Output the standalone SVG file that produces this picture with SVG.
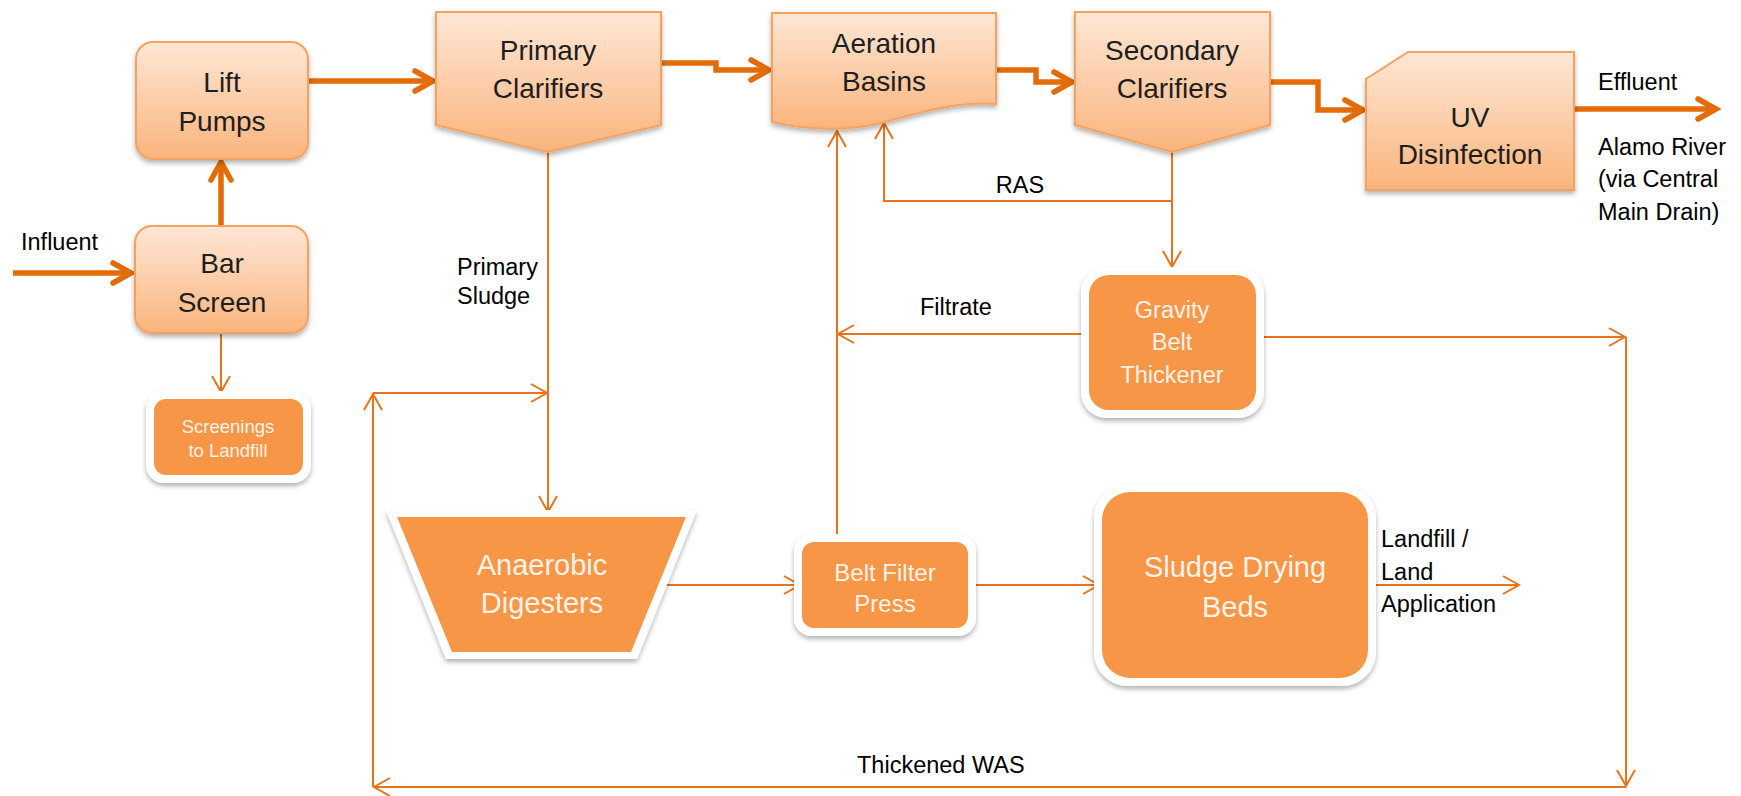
<svg xmlns="http://www.w3.org/2000/svg" width="1741" height="796" viewBox="0 0 1741 796">
<defs>
<linearGradient id="lg" x1="0" y1="0" x2="0" y2="1">
<stop offset="0" stop-color="#fee7d6"/>
<stop offset="1" stop-color="#fab47c"/>
</linearGradient>
<filter id="sh" x="-10%" y="-10%" width="120%" height="130%">
<feDropShadow dx="0" dy="3" stdDeviation="2.5" flood-color="#000" flood-opacity="0.3"/>
</filter>
<marker id="ahT" markerUnits="userSpaceOnUse" markerWidth="30" markerHeight="30" viewBox="-24 -14 30 28" refX="0" refY="0" orient="auto" overflow="visible">
<path d="M-18,-10 L0,0 L-18,10" fill="none" stroke="#e36c09" stroke-width="5.5" stroke-linecap="round" stroke-linejoin="miter"/>
</marker>
<marker id="ah" markerUnits="userSpaceOnUse" markerWidth="24" markerHeight="24" viewBox="-20 -12 24 24" refX="0" refY="0" orient="auto" overflow="visible">
<path d="M-16,-9 L0,0 L-16,9" fill="none" stroke="#e8731c" stroke-width="2"/>
</marker>
<style>
.lt{fill:url(#lg);stroke:#f6a25e;stroke-width:2;filter:url(#sh)}
.halo{fill:#fff;filter:url(#sh)}
.dk{fill:#f79646}
.tn{font-family:"Liberation Sans",Arial,sans-serif;font-size:28px;fill:#1e1e1e;text-anchor:middle}
.tw{font-family:"Liberation Sans",Arial,sans-serif;fill:#fff3ea;text-anchor:middle}
.lb{font-family:"Liberation Sans",Arial,sans-serif;font-size:23.5px;fill:#000}
.thick{fill:none;stroke:#e36c09;stroke-width:5.5;marker-end:url(#ahT)}
.thin{fill:none;stroke:#e8731c;stroke-width:2;marker-end:url(#ah)}
</style>
</defs>
<rect width="1741" height="796" fill="#fff"/>

<g id="connectors">
<path class="thick" d="M13,273 H131"/>
<path class="thick" d="M221,226 V162"/>
<path class="thick" d="M308,81 H433"/>
<path class="thick" d="M661,63 H716 V70 H769"/>
<path class="thick" d="M996,70 H1036 V82 H1072"/>
<path class="thick" d="M1270,82 H1318 V110 H1363"/>
<path class="thick" d="M1575,109 H1716"/>
<path class="thin" d="M221,333 V392"/>
<path class="thin" d="M548,152 V512"/>
<path class="thin" d="M1172,152 V267"/>
<path class="thin" d="M1172,201 H884 V123"/>
<path class="thin" d="M1090,334 H838"/>
<path class="thin" d="M837,542 V131"/>
<path class="thin" d="M1257,337 H1625"/>
<path class="thin" d="M1626,337 V786"/>
<path class="thin" d="M1626,787 H374"/>
<path class="thin" d="M373,787 V394"/>
<path class="thin" d="M373,393 H547"/>
<path class="thin" d="M663,585 H800"/>
<path class="thin" d="M968,585 H1099"/>
<path class="thin" d="M1368,585 H1519"/>
</g>

<g id="labels">
<text class="lb" x="21" y="250">Influent</text>
<text class="lb" x="457" y="275">Primary</text>
<text class="lb" x="457" y="304">Sludge</text>
<text class="lb" x="1020" y="193" text-anchor="middle">RAS</text>
<text class="lb" x="920" y="315">Filtrate</text>
<text class="lb" x="857" y="773">Thickened WAS</text>
<text class="lb" x="1598" y="90">Effluent</text>
<text class="lb" x="1598" y="155">Alamo River</text>
<text class="lb" x="1598" y="187">(via Central</text>
<text class="lb" x="1598" y="220">Main Drain)</text>
<text class="lb" x="1381" y="547">Landfill /</text>
<text class="lb" x="1381" y="580">Land</text>
<text class="lb" x="1381" y="612">Application</text>
</g>

<g id="lift-pumps">
<rect class="lt" x="136" y="42" width="172" height="117" rx="17"/>
<text class="tn" x="222" y="92">Lift</text>
<text class="tn" x="222" y="131">Pumps</text>
</g>
<g id="bar-screen">
<rect class="lt" x="135" y="226" width="173" height="107" rx="17"/>
<text class="tn" x="222" y="273">Bar</text>
<text class="tn" x="222" y="312">Screen</text>
</g>
<g id="primary-clarifiers">
<path class="lt" d="M436,12 H661 V125 L548,152 L436,125 Z"/>
<text class="tn" x="548" y="60">Primary</text>
<text class="tn" x="548" y="98">Clarifiers</text>
</g>
<g id="aeration-basins">
<path class="lt" d="M772,13 H996 V104 C955,101 915,114 885,122 C855,130 815,132 772,122 Z"/>
<text class="tn" x="884" y="53">Aeration</text>
<text class="tn" x="884" y="91">Basins</text>
</g>
<g id="secondary-clarifiers">
<path class="lt" d="M1075,12 H1270 V125 L1172,152 L1075,125 Z"/>
<text class="tn" x="1172" y="60">Secondary</text>
<text class="tn" x="1172" y="98">Clarifiers</text>
</g>
<g id="uv-disinfection">
<path class="lt" d="M1408,52 H1574 V190 H1366 V79 Z"/>
<text class="tn" x="1470" y="127">UV</text>
<text class="tn" x="1470" y="164">Disinfection</text>
</g>
<g id="screenings">
<rect class="halo" x="146" y="391" width="165" height="92" rx="18"/>
<rect class="dk" x="154" y="399" width="149" height="76" rx="12"/>
<text class="tw" x="228" y="433" font-size="18.5">Screenings</text>
<text class="tw" x="228" y="457" font-size="18.5">to Landfill</text>
</g>
<g id="gravity-belt-thickener">
<rect class="halo" x="1081" y="267" width="183" height="151" rx="26"/>
<rect class="dk" x="1089" y="275" width="167" height="135" rx="20"/>
<text class="tw" x="1172" y="318" font-size="23.5">Gravity</text>
<text class="tw" x="1172" y="350" font-size="23.5">Belt</text>
<text class="tw" x="1172" y="383" font-size="23.5">Thickener</text>
</g>
<g id="anaerobic-digesters">
<path class="halo" d="M386,510 H697 L637,659 H446 Z"/>
<path class="dk" d="M397,517 H686 L631,652 H452 Z"/>
<text class="tw" x="542" y="575" font-size="29">Anaerobic</text>
<text class="tw" x="542" y="613" font-size="29">Digesters</text>
</g>
<g id="belt-filter-press">
<rect class="halo" x="794" y="534" width="182" height="102" rx="18"/>
<rect class="dk" x="802" y="542" width="166" height="86" rx="12"/>
<text class="tw" x="885" y="581" font-size="24">Belt Filter</text>
<text class="tw" x="885" y="612" font-size="24">Press</text>
</g>
<g id="sludge-drying-beds">
<rect class="halo" x="1094" y="484" width="282" height="202" rx="34"/>
<rect class="dk" x="1102" y="492" width="266" height="186" rx="28"/>
<text class="tw" x="1235" y="577" font-size="29">Sludge Drying</text>
<text class="tw" x="1235" y="617" font-size="29">Beds</text>
</g>
</svg>
